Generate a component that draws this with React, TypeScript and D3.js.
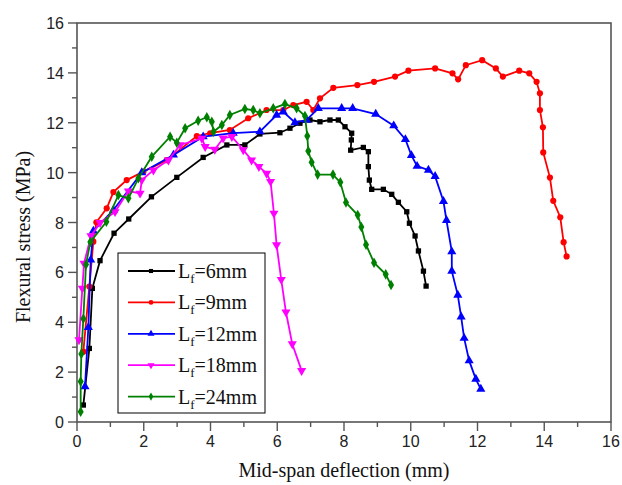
import React, { Component } from "react";
import * as d3 from "d3";

// Mid-span deflection (mm), flexural stress (MPa)
const lf6 = [
	[0.19, 0.68], [0.37, 2.95], [0.46, 5.36], [0.69, 6.47], [1.11, 7.57], [1.55, 8.14],
	[2.23, 9.03], [2.99, 9.81], [3.78, 10.61], [4.49, 11.11], [5.03, 11.11], [5.48, 11.55],
	[6.08, 11.6], [6.38, 11.78], [6.68, 11.98], [6.98, 12.11], [7.28, 12.04], [7.58, 12.11],
	[7.83, 12.11], [8.03, 11.84], [8.23, 11.58], [8.22, 11.31], [8.2, 10.9], [8.58, 11.01],
	[8.73, 10.84], [8.73, 10.24], [8.76, 9.7], [8.83, 9.33], [9.18, 9.33], [9.43, 9.13],
	[9.63, 8.81], [9.88, 8.43], [9.96, 7.97], [10.13, 7.46], [10.23, 6.86], [10.38, 6.05],
	[10.46, 5.45],
];
const lf9 = [
	[0.19, 2.82], [0.37, 5.43], [0.49, 7.23], [0.58, 8.01], [0.89, 8.57], [1.09, 9.22],
	[1.49, 9.7], [1.99, 10.04], [2.69, 10.5], [3.59, 11.47], [3.99, 11.58], [4.58, 11.71],
	[5.13, 12.18], [5.68, 12.51], [6.18, 12.51], [6.48, 12.71], [6.88, 12.84], [7.08, 12.51],
	[7.28, 12.98], [7.68, 13.4], [8.4, 13.51], [8.9, 13.64], [9.53, 13.85], [9.93, 14.09],
	[10.73, 14.18], [11.25, 13.98], [11.42, 13.74], [11.65, 14.31], [12.14, 14.51],
	[12.55, 14.18], [12.76, 13.85], [13.25, 14.09], [13.55, 13.98], [13.77, 13.64],
	[13.87, 13.18], [13.87, 12.51], [13.96, 11.82], [13.97, 10.81], [14.17, 9.8],
	[14.27, 8.87], [14.48, 8.21], [14.58, 7.21], [14.67, 6.64],
];
const lf12 = [
	[0.24, 1.42], [0.34, 3.79], [0.41, 6.5], [0.49, 7.66], [1.09, 8.5], [1.94, 10.0],
	[2.89, 10.71], [3.78, 11.44], [4.68, 11.58], [5.48, 11.64], [5.98, 12.31], [6.18, 12.44],
	[6.53, 12.01], [6.88, 12.11], [7.23, 12.58], [7.93, 12.58], [8.26, 12.58], [8.95, 12.35],
	[9.49, 11.88], [9.84, 11.33], [10.02, 10.69], [10.19, 10.26], [10.53, 10.1], [10.73, 9.85],
	[10.98, 8.85], [11.07, 8.09], [11.23, 6.83], [11.23, 6.05], [11.41, 5.09], [11.51, 4.22],
	[11.6, 3.36], [11.75, 2.46], [11.95, 1.72], [12.1, 1.32],
];
const lf18 = [
	[0.06, 3.29], [0.16, 5.36], [0.21, 6.36], [0.42, 7.46], [0.69, 7.99], [1.14, 8.43],
	[1.54, 9.26], [1.89, 9.17], [1.94, 9.7], [2.29, 10.1], [2.74, 10.5], [3.09, 11.11],
	[3.74, 11.37], [3.84, 11.04], [4.13, 10.93], [4.38, 11.38], [4.64, 11.44], [4.98, 10.91],
	[5.23, 10.5], [5.45, 10.24], [5.68, 9.97], [5.8, 9.64], [5.9, 8.37], [5.98, 7.1],
	[6.12, 5.71], [6.26, 4.41], [6.45, 3.13], [6.73, 2.06],
];
const lf24 = [
	[0.11, 0.41], [0.11, 1.62], [0.13, 2.73], [0.19, 4.14], [0.27, 6.32], [0.4, 7.22],
	[0.88, 8.03], [1.24, 9.1], [1.54, 8.97], [1.84, 9.77], [2.24, 10.64], [2.79, 11.44],
	[2.99, 11.2], [3.24, 11.78], [3.63, 12.08], [3.89, 12.22], [4.04, 12.04], [4.09, 11.64],
	[4.34, 11.91], [4.58, 12.31], [5.03, 12.55], [5.28, 12.51], [5.48, 12.38], [5.88, 12.58],
	[6.23, 12.75], [6.58, 12.58], [6.83, 12.27], [6.9, 11.47], [6.93, 10.87], [7.03, 10.42],
	[7.21, 9.92], [7.67, 9.92], [7.89, 9.61], [8.06, 8.8], [8.41, 8.3], [8.52, 7.82],
	[8.66, 7.11], [8.9, 6.39], [9.25, 5.92], [9.41, 5.49],
];

const seriesData = [lf6, lf9, lf12, lf18, lf24];
const legendNums = ["6", "9", "12", "18", "24"];
const colors = ["#000000", "#ff0000", "#0000ff", "#ff00ff", "#008000"];
const xTicks = [0, 2, 4, 6, 8, 10, 12, 14, 16];
const yTicks = [0, 2, 4, 6, 8, 10, 12, 14, 16];

class App extends Component {
	constructor(props) {
		super(props);
		this.state = { width: 622, height: 485 };
	}
	componentDidMount() {
		this.draw();
	}
	draw() {
		const svg = d3.select("#flex");
		svg.selectAll("*").remove();
		const left = 77, right = 611, top = 23, bottom = 422;
		const x = d3.scaleLinear().domain([0, 16]).range([left, right]);
		const y = d3.scaleLinear().domain([0, 16]).range([bottom, top]);
		const symbols = [d3.symbolSquare, d3.symbolCircle, d3.symbolTriangle, d3.symbolTriangle, d3.symbolDiamond];
		const sizes = [28, 30, 36, 36, 32];
		const axisColor = "#555";

		// frame
		svg.append("rect")
			.attr("x", left)
			.attr("y", top)
			.attr("width", right - left)
			.attr("height", bottom - top)
			.attr("fill", "none")
			.attr("stroke", axisColor)
			.attr("stroke-width", 1.6);

		// y ticks
		yTicks.forEach(t => {
			svg.append("line")
				.attr("x1", left - 9).attr("x2", left)
				.attr("y1", y(t)).attr("y2", y(t))
				.attr("stroke", axisColor).attr("stroke-width", 1.4);
			svg.append("text")
				.attr("x", left - 13).attr("y", y(t) + 6)
				.attr("text-anchor", "end")
				.attr("font-family", "Liberation Sans, Arial, sans-serif")
				.attr("font-size", 16)
				.attr("fill", "#222")
				.text(t);
		});
		d3.range(1, 16, 2).forEach(t => {
			svg.append("line")
				.attr("x1", left - 5).attr("x2", left)
				.attr("y1", y(t)).attr("y2", y(t))
				.attr("stroke", axisColor).attr("stroke-width", 1.4);
		});
		// x ticks
		xTicks.forEach(t => {
			svg.append("line")
				.attr("x1", x(t)).attr("x2", x(t))
				.attr("y1", bottom).attr("y2", bottom + 9)
				.attr("stroke", axisColor).attr("stroke-width", 1.4);
			svg.append("text")
				.attr("x", x(t)).attr("y", bottom + 25)
				.attr("text-anchor", "middle")
				.attr("font-family", "Liberation Sans, Arial, sans-serif")
				.attr("font-size", 16)
				.attr("fill", "#222")
				.text(t);
		});
		d3.range(1, 16, 2).forEach(t => {
			svg.append("line")
				.attr("x1", x(t)).attr("x2", x(t))
				.attr("y1", bottom).attr("y2", bottom + 5)
				.attr("stroke", axisColor).attr("stroke-width", 1.4);
		});

		// axis titles
		svg.append("text")
			.attr("x", (left + right) / 2).attr("y", 477)
			.attr("text-anchor", "middle")
			.attr("font-family", "Liberation Serif, Times New Roman, serif")
			.attr("font-size", 20)
			.attr("fill", "#111")
			.text("Mid-span deflection (mm)");
		svg.append("text")
			.attr("transform", "translate(30,237) rotate(-90)")
			.attr("text-anchor", "middle")
			.attr("font-family", "Liberation Serif, Times New Roman, serif")
			.attr("font-size", 20)
			.attr("fill", "#111")
			.text("Flexural stress (MPa)");

		// series
		const line = d3.line().x(d => x(d[0])).y(d => y(d[1]));
		seriesData.forEach((data, i) => {
			const g = svg.append("g");
			g.append("path")
				.attr("d", line(data))
				.attr("fill", "none")
				.attr("stroke", colors[i])
				.attr("stroke-width", 1.8);
			const sym = d3.symbol().type(symbols[i]).size(sizes[i]);
			g.selectAll("path.pt")
				.data(data)
				.enter()
				.append("path")
				.attr("class", "pt")
				.attr("d", sym)
				.attr("transform", d => `translate(${x(d[0])},${y(d[1])})${i === 3 ? " rotate(180)" : ""}`)
				.attr("fill", colors[i]);
		});

		// legend
		const lg = svg.append("g");
		lg.append("rect")
			.attr("x", 118).attr("y", 253)
			.attr("width", 147).attr("height", 160)
			.attr("fill", "#fff")
			.attr("stroke", "#000")
			.attr("stroke-width", 1);
		legendNums.forEach((n, i) => {
			const cy = 271 + i * 31.4;
			lg.append("line")
				.attr("x1", 128).attr("x2", 175)
				.attr("y1", cy).attr("y2", cy)
				.attr("stroke", colors[i]).attr("stroke-width", 1.8);
			lg.append("path")
				.attr("d", d3.symbol().type(symbols[i]).size(sizes[i] * 0.6)())
				.attr("transform", `translate(151,${cy})${i === 3 ? " rotate(180)" : ""}`)
				.attr("fill", colors[i]);
			const t = lg.append("text")
				.attr("x", 178).attr("y", cy + 7)
				.attr("font-family", "Liberation Serif, Times New Roman, serif")
				.attr("font-size", 20)
				.attr("fill", "#111");
			t.append("tspan").text("L");
			t.append("tspan").attr("font-size", 13).attr("dy", 5).text("f");
			t.append("tspan").attr("dy", -5).text("=" + n + "mm");
		});
	}
	render() {
		const { width, height } = this.state;
		return (
			<svg
				id="flex"
				width={width}
				height={height}
				style={{ position: "absolute", left: 0, top: 0, background: "#fff" }}
			></svg>
		);
	}
}

export default App;
